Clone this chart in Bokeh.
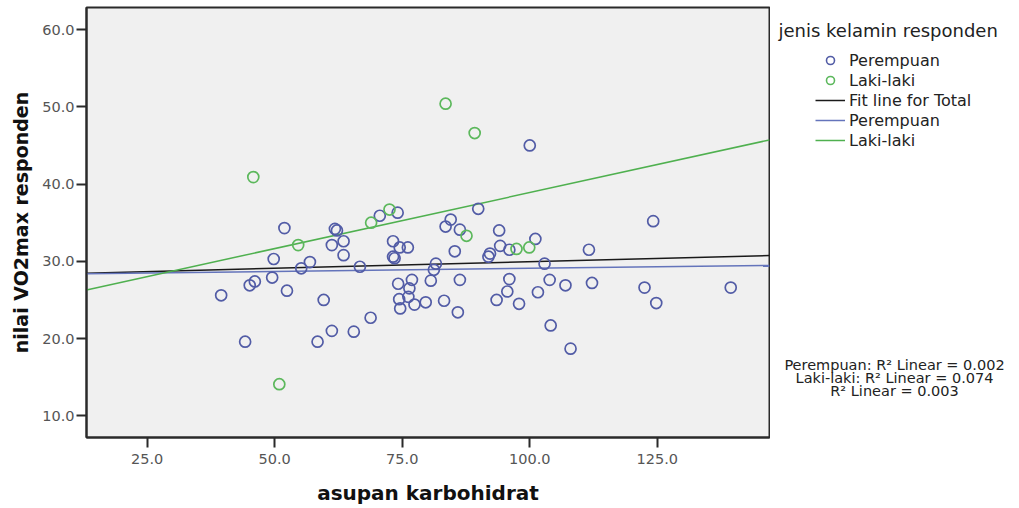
from bokeh.plotting import figure
from bokeh.layouts import row
from bokeh.models import Range1d, Legend, LegendItem, FixedTicker, NumeralTickFormatter
from bokeh.core.properties import value
from bokeh.embed import file_html
from bokeh.resources import INLINE
import numpy as np

# ---- data ----
perempuan_x = [51.9, 61.8, 62.2, 61.2, 63.5, 63.5, 70.6, 74.1, 73.2, 74.5, 76.1, 73.2, 73.5,
               83.5, 84.5, 86.3, 89.9, 85.3, 91.9, 92.2, 94.0, 94.2, 96.0, 101.1, 111.6,
               100.0, 124.2, 49.8, 56.9, 55.2, 66.7, 49.5, 46.1, 45.1, 39.5, 52.4, 59.6,
               68.8, 61.2, 65.5, 58.4, 44.2, 81.6, 81.2, 80.6, 86.3, 74.2, 76.9, 76.4,
               76.2, 74.4, 74.6, 77.4, 79.6, 83.2, 85.9, 96.0, 95.6, 93.5, 97.9, 101.6,
               102.9, 103.9, 107.0, 112.2, 122.5, 124.8, 139.4, 104.1, 108.0]
perempuan_y = [34.3, 34.2, 34.0, 32.1, 32.6, 30.8, 35.9, 36.3, 32.6, 31.8, 31.8, 30.6, 30.4,
               34.5, 35.4, 34.1, 36.8, 31.3, 30.6, 31.0, 34.0, 32.0, 31.5, 32.9, 31.5,
               45.0, 35.2, 30.3, 29.9, 29.1, 29.3, 27.9, 27.4, 26.9, 25.6, 26.2, 25.0,
               22.7, 21.0, 20.9, 19.6, 19.6, 29.7, 28.9, 27.5, 27.6, 27.1, 27.6, 26.5,
               25.4, 25.1, 23.9, 24.4, 24.7, 24.9, 23.4, 27.7, 26.1, 25.0, 24.5, 26.0,
               29.7, 27.6, 26.9, 27.2, 26.6, 24.6, 26.6, 21.7, 18.7]
laki_x = [45.8, 54.6, 50.9, 68.9, 72.5, 83.5, 89.2, 87.6, 97.4, 99.9]
laki_y = [40.9, 32.1, 14.1, 35.0, 36.7, 50.4, 46.6, 33.3, 31.6, 31.8]

# fit lines: intercept, slope
fit_total = [28.24, 0.0171]
fit_perempuan = [28.30, 0.0079]
fit_laki = [24.4, 0.145]

x_ticks = [25, 50, 75, 100, 125]
y_ticks = [10, 20, 30, 40, 50, 60]
x_start, x_end = 13.1, 147.0
y_start, y_end = 7.2, 62.85

legend_title = "jenis kelamin responden"
legend_labels = ["Perempuan", "Laki-laki", "Fit line for Total", "Perempuan", "Laki-laki"]
r2_texts = ["Perempuan: R\u00b2 Linear = 0.002",
            "Laki-laki: R\u00b2 Linear = 0.074",
            "R\u00b2 Linear = 0.003"]

BLUE = "#525ca6"
GREEN = "#5cb85c"
LINE_BLACK = "#1a1a1a"
LINE_BLUE = "#6474bb"
LINE_GREEN = "#4fb04f"
FONT = "DejaVu Sans"

# ---- main scatter plot ----
p = figure(width=770, height=508, output_backend="svg", toolbar_location=None,
           x_range=Range1d(x_start, x_end), y_range=Range1d(y_start, y_end),
           min_border_left=86, min_border_right=1, min_border_top=7, min_border_bottom=71)
p.background_fill_color = "#f0f0f0"
p.border_fill_color = "white"
p.outline_line_color = "#2a2a2a"
p.outline_line_width = 2
p.grid.visible = False

xs = np.array([x_start, x_end])
p.line(xs, fit_total[0] + fit_total[1] * xs, line_color=LINE_BLACK, line_width=1.5)
p.line(xs, fit_perempuan[0] + fit_perempuan[1] * xs, line_color=LINE_BLUE, line_width=1.5)
p.line(xs, fit_laki[0] + fit_laki[1] * xs, line_color=LINE_GREEN, line_width=1.5)

p.scatter(perempuan_x, perempuan_y, marker="circle", size=11, fill_color=None,
          line_color=BLUE, line_width=1.7)
p.scatter(laki_x, laki_y, marker="circle", size=11, fill_color=None,
          line_color=GREEN, line_width=1.7)

for ax in (p.xaxis[0], p.yaxis[0]):
    ax.axis_line_color = "#2a2a2a"
    ax.axis_line_width = 2
    ax.major_tick_line_color = "#2a2a2a"
    ax.major_tick_line_width = 2
    ax.major_tick_out = 10
    ax.major_tick_in = 0
    ax.minor_tick_line_color = None
    ax.major_label_text_font = FONT
    ax.major_label_text_font_size = "14.5px"
    ax.major_label_text_color = "#555555"
    ax.axis_label_text_font = FONT
    ax.axis_label_text_font_style = "bold"
    ax.axis_label_text_color = "#111111"
    ax.formatter = NumeralTickFormatter(format="0.0")

p.xaxis.ticker = FixedTicker(ticks=x_ticks)
p.yaxis.ticker = FixedTicker(ticks=y_ticks)
p.xaxis.axis_label = "asupan karbohidrat"
p.yaxis.axis_label = "nilai VO2max responden"
p.xaxis.axis_label_text_font_size = "20px"
p.yaxis.axis_label_text_font_size = "19px"
p.xaxis.major_label_standoff = 6
p.xaxis.axis_label_standoff = 14
p.yaxis.major_label_standoff = 2
p.yaxis.axis_label_standoff = 7

# ---- side panel with legend and R^2 notes ----
# (its frame is aligned with the main frame, pixel rows 7..437)
q = figure(width=249, height=508, output_backend="svg", toolbar_location=None,
           x_range=Range1d(0, 249), y_range=Range1d(437, 7),
           min_border_left=0, min_border_right=0, min_border_top=7, min_border_bottom=71)
q.axis.visible = False
q.grid.visible = False
q.outline_line_color = None
q.background_fill_color = "white"
q.border_fill_color = "white"

# legend proxies (same styles as the main plot's renderers, kept outside the view)
d1 = q.scatter([-100], [-100], marker="circle", size=13, fill_color=None, line_color=BLUE, line_width=1.6)
d2 = q.scatter([-100], [-100], marker="circle", size=13, fill_color=None, line_color=GREEN, line_width=1.6)
d3 = q.line([-100, -90], [-100, -100], line_color=LINE_BLACK, line_width=1.5)
d4 = q.line([-100, -90], [-100, -100], line_color=LINE_BLUE, line_width=1.5)
d5 = q.line([-100, -90], [-100, -100], line_color=LINE_GREEN, line_width=1.5)

legend = Legend(items=[LegendItem(label=lab, renderers=[r]) for lab, r in
                       zip(legend_labels, [d1, d2, d3, d4, d5])],
                location=(45, 287))
legend.border_line_color = None
legend.background_fill_alpha = 0
legend.label_text_font = FONT
legend.label_text_font_size = "16px"
legend.label_text_color = "#222222"
legend.glyph_width = 30
legend.glyph_height = 20
legend.label_height = 20
legend.spacing = 0
legend.padding = 0
legend.margin = 0
legend.label_standoff = 4
q.add_layout(legend, "center")

q.text(x=[8], y=[30], text=[legend_title], text_font=value(FONT), text_font_size="18px",
       text_baseline="middle", text_color="#222222")
q.text(x=[124, 124, 124], y=[364, 377, 390], text=r2_texts, text_font=value(FONT),
       text_font_size="14.5px", text_align="center", text_baseline="middle",
       text_color="#222222")

layout = row(p, q, spacing=0)
open("out.html", "w").write(file_html(layout, INLINE))
